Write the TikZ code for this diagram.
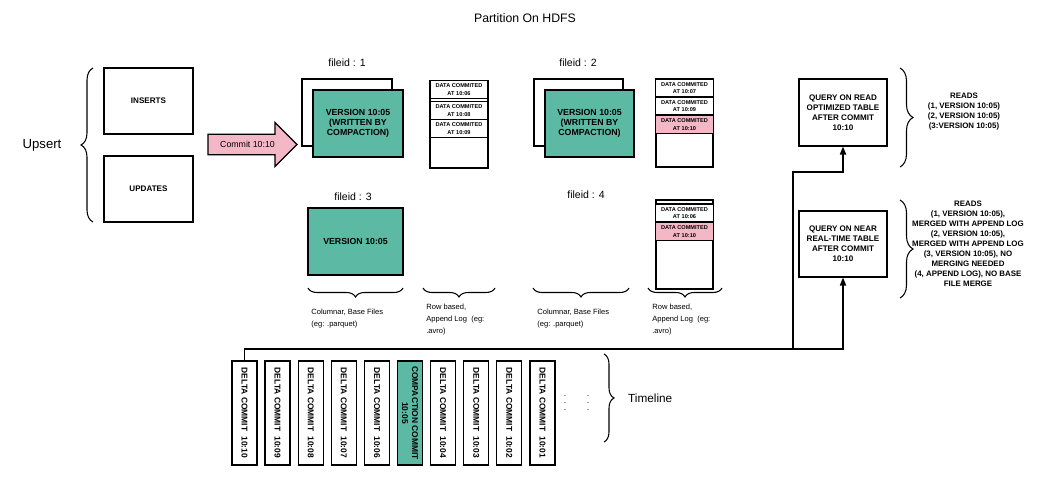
\documentclass[tikz,border=0pt]{standalone}
\usepackage{fontspec}
\setmainfont{Liberation Sans}
\usetikzlibrary{shapes.arrows,decorations.pathreplacing,arrows.meta}
\definecolor{tealfill}{RGB}{92,185,164}
\definecolor{pinkfill}{RGB}{244,183,198}
\begin{document}
\begin{tikzpicture}[x=0.02cm,y=-0.02cm,
        box/.style={draw,rectangle,line width=0.7pt,align=center,inner sep=1pt,font=\fontsize{4.6}{5.7}\selectfont\bfseries},
        entry/.style={draw,rectangle,line width=0.6pt,align=center,inner sep=0pt,minimum width=57.5*0.02cm,font=\fontsize{3.2}{4.3}\selectfont\bfseries},
        commit/.style={draw,rectangle,line width=0.7pt,align=center,inner sep=0pt,rotate=-90,minimum width=104*0.02cm,minimum height=25*0.02cm,font=\fontsize{4.8}{5.6}\selectfont\bfseries},
        curly/.style={decorate,decoration={brace,amplitude=#1},line width=0.6pt},
        curly/.default=0.2cm,
        note/.style={align=left,anchor=north west,inner sep=0pt,font=\fontsize{4.3}{6.8}\selectfont},
        reads/.style={align=center,inner sep=0pt,font=\fontsize{4.5}{5.7}\selectfont\bfseries},
        link/.style={line width=0.7pt}]
    \useasboundingbox (0,0) rectangle (1048,478);
    % titles
    \node[font=\fontsize{7}{8}\selectfont] (title) at (525,18) {Partition On HDFS};
    \node[font=\fontsize{7.5}{9}\selectfont] (upsert) at (42,145) {Upsert};
    \draw[curly=0.24cm] (93,222) -- (93,68);
    \node[box,minimum width=89*0.02cm,minimum height=66*0.02cm] (inserts) at (148.5,101) {INSERTS};
    \node[box,minimum width=89*0.02cm,minimum height=66*0.02cm] (updates) at (148.5,189) {UPDATES};
    \node[single arrow,draw,line width=0.7pt,fill=pinkfill,single arrow head indent=0pt,single arrow head extend=12*0.02cm,
        minimum height=89*0.02cm,inner xsep=1pt,inner ysep=3.6pt,font=\fontsize{5}{6}\selectfont] (commit) at (247.5,144.5) {Commit 10:10};
    % file groups
    \def \Labels{ fa/347/63/1, fb/578/63/2, fc/353/197/3, fd/586/195/4}
    \foreach \id / \x / \y / \n in \Labels{
        \node[font=\fontsize{6}{7}\selectfont] (\id) at (\x,\y) {fileid : \n};
    }
    \node[box,fill=white,minimum width=90*0.02cm,minimum height=67*0.02cm] (backa) at (347,112.5) {};
    \node[box,fill=tealfill,minimum width=90*0.02cm,minimum height=67*0.02cm,font=\fontsize{5}{5.7}\selectfont\bfseries] (basea) at (358,123.5) {VERSION 10:05\\(WRITTEN BY\\COMPACTION)};
    \node[box,fill=white,minimum width=89*0.02cm,minimum height=67*0.02cm] (backb) at (578.5,112.5) {};
    \node[box,fill=tealfill,minimum width=89*0.02cm,minimum height=67*0.02cm,font=\fontsize{5}{5.7}\selectfont\bfseries] (baseb) at (589.5,123.5) {VERSION 10:05\\(WRITTEN BY\\COMPACTION)};
    \node[box,fill=tealfill,minimum width=95*0.02cm,minimum height=67*0.02cm,font=\fontsize{5}{5.7}\selectfont\bfseries] (basec) at (355.5,241.5) {VERSION 10:05};
    % append logs
    \node[box,minimum width=58*0.02cm,minimum height=87*0.02cm] (loga) at (459,124.5) {};
    \node[box,minimum width=57*0.02cm,minimum height=88*0.02cm] (logb) at (684.5,123) {};
    \node[box,minimum width=57*0.02cm,minimum height=89*0.02cm] (logd) at (684.5,244.5) {};
    \def \Entries{ ea/459/89.5/10:06/white, eb/459/110.5/10:08/white, ec/459/128.3/10:09/white,
        ed/684.5/88/10:07/white, ee/684.5/106/10:09/white, ef/684.5/124.5/10:10/pinkfill,
        eg/684.5/213/10:06/white, eh/684.5/231.5/10:10/pinkfill}
    \foreach \id / \x / \y / \t / \c in \Entries{
        \node[entry,fill=\c,minimum height=18*0.02cm] (\id) at (\x,\y) {DATA COMMITED\\AT \t};
    }
    % file kinds
    \draw[curly=0.18cm] (403,288) -- (308,288);
    \draw[curly=0.18cm] (495,288) -- (423,288);
    \draw[curly=0.18cm] (629,288) -- (533,288);
    \draw[curly=0.18cm] (722,288) -- (648,288);
    \node[note] (kinda) at (311,309) {Columnar, Base Files\\(eg: .parquet)};
    \node[note] (kindb) at (426,304) {Row based,\\Append Log\ \ (eg:\\.avro)};
    \node[note] (kindc) at (537,309) {Columnar, Base Files\\(eg: .parquet)};
    \node[note] (kindd) at (652,304) {Row based,\\Append Log\ \ (eg:\\.avro)};
    % queries
    \node[box,minimum width=88*0.02cm,minimum height=67*0.02cm] (qa) at (843,112.5) {QUERY ON READ\\OPTIMIZED TABLE\\AFTER COMMIT\\10:10};
    \node[box,minimum width=88*0.02cm,minimum height=66*0.02cm] (qb) at (843,244) {QUERY ON NEAR\\REAL-TIME TABLE\\AFTER COMMIT\\10:10};
    \draw[curly=0.26cm] (900,68) -- (900,167);
    \draw[curly=0.26cm] (900,200) -- (900,298);
    \node[reads] (ra) at (964,112) {READS\\(1, VERSION 10:05)\\(2, VERSION 10:05)\\(3:VERSION 10:05)};
    \node[reads] (rb) at (968,244) {READS\\(1, VERSION 10:05),\\MERGED WITH APPEND LOG\\(2, VERSION 10:05),\\MERGED WITH APPEND LOG\\(3, VERSION 10:05), NO\\MERGING NEEDED\\(4, APPEND LOG), NO BASE\\FILE MERGE};
    % timeline
    \def \Commits{ ca/DELTA COMMIT\hspace{3pt}10:10/white, cb/DELTA COMMIT\hspace{3pt}10:09/white,
        cc/DELTA COMMIT\hspace{3pt}10:08/white, cd/DELTA COMMIT\hspace{3pt}10:07/white,
        ce/DELTA COMMIT\hspace{3pt}10:06/white, cf/COMPACTION COMMIT\\10:05/tealfill,
        cg/DELTA COMMIT\hspace{3pt}10:04/white, ch/DELTA COMMIT\hspace{3pt}10:03/white,
        ci/DELTA COMMIT\hspace{3pt}10:02/white, cj/DELTA COMMIT\hspace{3pt}10:01/white}
    \foreach \id / \t / \c [count=\i from 0] in \Commits{
        \node[commit,fill=\c] (\id) at ({244.5+33.1*\i},413) {\t};
    }
    \node[inner sep=0pt] (dotsa) at (565,398) {\tiny$\vdots$};
    \node[inner sep=0pt] (dotsb) at (588,398) {\tiny$\vdots$};
    \draw[curly=0.2cm] (604,354) -- (604,442);
    \node[anchor=west,font=\fontsize{6.7}{8}\selectfont] (timeline) at (622,398) {Timeline};
    % connectors
    \coordinate (split) at (793,349);
    \coordinate (bend) at (793,172);
    \draw[link,-{Triangle[length=4.5pt,width=3.5pt]}] (ca.west) |- (split) -| (qb.south);
    \draw[link,-{Triangle[length=4.5pt,width=3.5pt]}] (split) -- (bend) -| (qa.south);
\end{tikzpicture}
\end{document}
